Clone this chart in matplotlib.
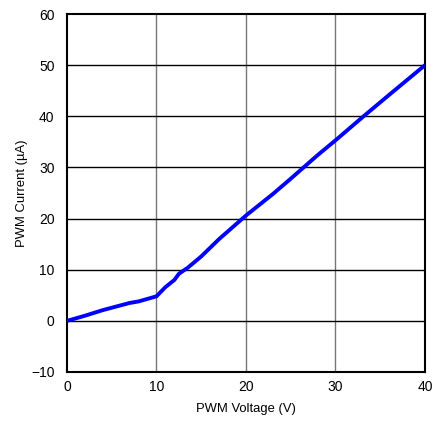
import matplotlib
matplotlib.use("Agg")
import matplotlib.pyplot as plt

# PWM current vs PWM voltage
pwm_voltage = [0, 2, 4, 7, 8, 10, 10.5, 11, 12, 12.5, 13.5, 15, 17, 20, 23, 25, 28, 30, 33, 36, 40]
pwm_current = [0, 1.0, 2.1, 3.5, 3.8, 4.8, 5.7, 6.6, 8.0, 9.2, 10.4, 12.6, 16.0, 20.6, 24.8, 27.8, 32.4, 35.3, 39.8, 44.2, 50.0]

x_ticks = [0, 10, 20, 30, 40]
y_ticks = [-10, 0, 10, 20, 30, 40, 50, 60]

plt.rcParams["font.family"] = ["Liberation Sans", "DejaVu Sans"]

fig = plt.figure(figsize=(4.35, 4.21), dpi=100)
ax = fig.add_axes([0.154, 0.1164, 0.823, 0.8503])

# grid: vertical lines gray, horizontal lines black
for x in x_ticks[1:-1]:
    ax.axvline(x, color="#777777", lw=1.0, zorder=1)
for y in y_ticks[1:-1]:
    ax.axhline(y, color="black", lw=1.0, zorder=1)

ax.plot(pwm_voltage, pwm_current, color="#0000ff", lw=2.8, zorder=3, solid_capstyle="butt")

ax.set_xlim(0, 40)
ax.set_ylim(-10, 60)
ax.set_xticks(x_ticks)
ax.set_yticks(y_ticks)
ax.set_yticklabels(["\u221210"] + [str(v) for v in y_ticks[1:]])
ax.tick_params(length=0, labelsize=10)
ax.tick_params(axis="y", pad=9)
ax.tick_params(axis="x", pad=6)

for side in ax.spines.values():
    side.set_linewidth(1.5)

ax.set_xlabel("PWM Voltage (V)", fontsize=9.4, labelpad=6)
ax.set_ylabel("PWM Current (\u00b5A)", fontsize=9.4, labelpad=2)

plt.savefig("out.png", dpi=100)
plt.close()
